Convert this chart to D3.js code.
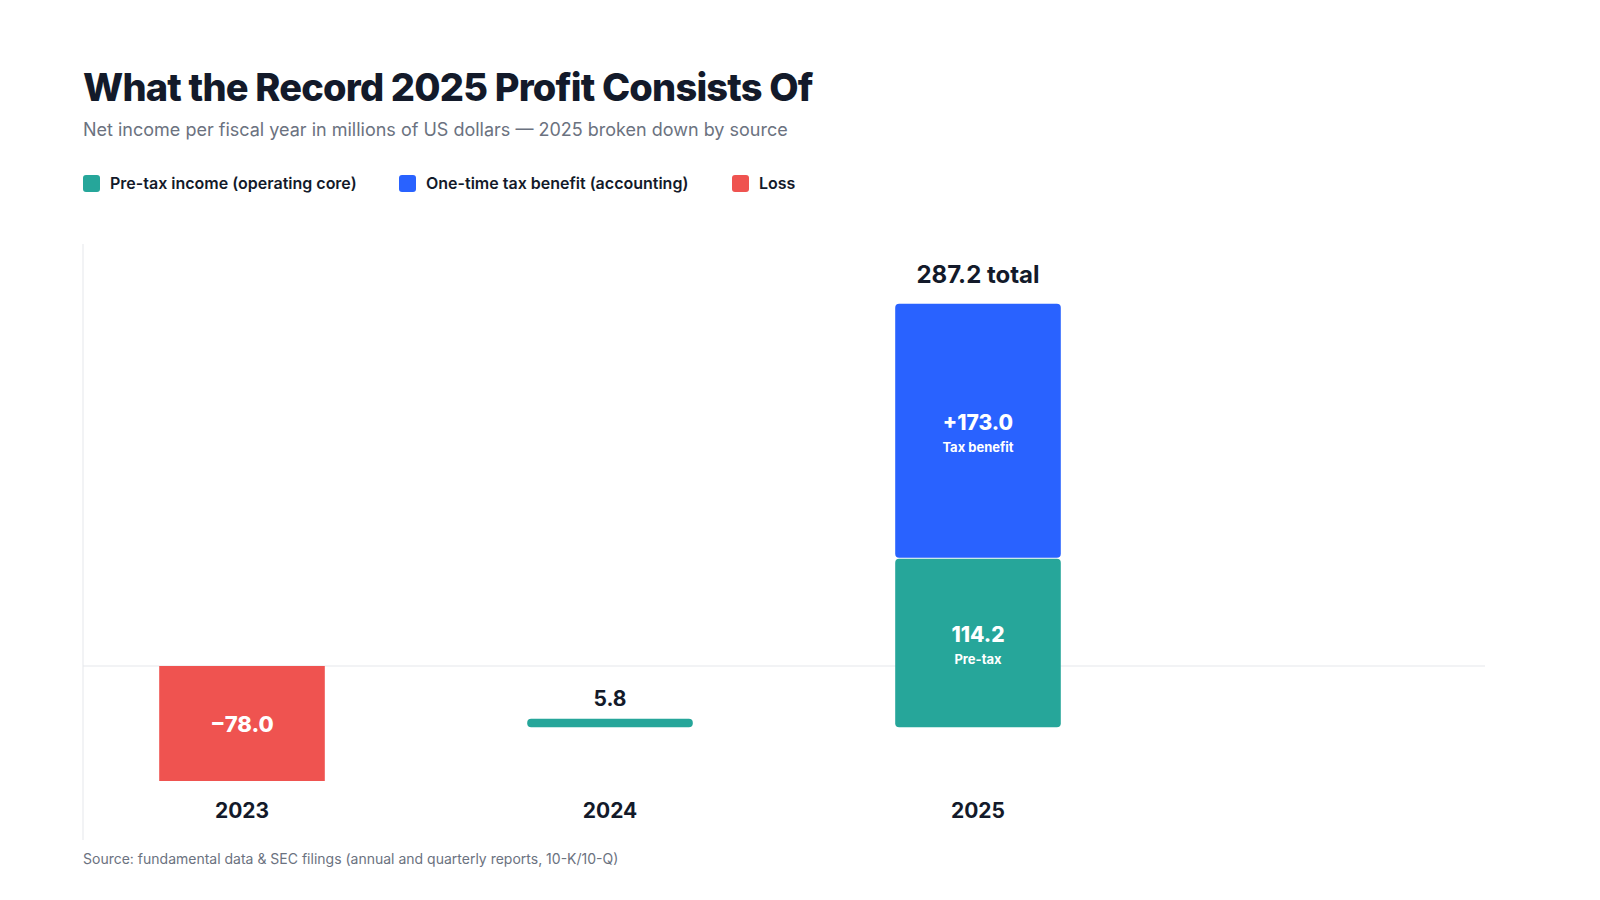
<!DOCTYPE html>
<html><head><meta charset="utf-8">
<script src="https://cdn.jsdelivr.net/npm/d3@7"></script>
<style>body{margin:0;background:#fff;font-family:Inter,"Noto Sans",sans-serif}</style>
</head><body>
<script>
// data
var years = ["2023", "2024", "2025"]
var pretax = [0, 5.8, 114.2]
var taxBenefit = [0, 0, 173.0]
var loss = [-78.0, 0, 0]
var totals = [-78.0, 5.8, 287.2]
var legendLabels = ["Pre-tax income (operating core)", "One-time tax benefit (accounting)", "Loss"]
var colors = ["#26a69a", "#2962ff", "#ef5350"]

var svg = d3.select("body").append("svg").attr("width", 1600).attr("height", 900)

svg.append("text").attr("x", 83).attr("y", 101).attr("font-size", 38).attr("font-weight", 800)
  .attr("fill", "#131a2a").attr("letter-spacing", -0.8).text("What the Record 2025 Profit Consists Of")
svg.append("text").attr("x", 83).attr("y", 136).attr("font-size", 18).attr("fill", "#6b7280")
  .text("Net income per fiscal year in millions of US dollars — 2025 broken down by source")

// legend
var lx = [83, 399, 732]
legendLabels.forEach(function(l, i) {
  svg.append("rect").attr("x", lx[i]).attr("y", 175).attr("width", 17).attr("height", 17).attr("rx", 3).attr("fill", colors[i])
  svg.append("text").attr("x", lx[i] + 27).attr("y", 189).attr("font-size", 16).attr("font-weight", 600)
    .attr("fill", "#131a2a").text(l)
})

var x = d3.scaleBand().domain(years).range([58, 1162]).paddingInner(0.55).paddingOuter(0.275)
var y = d3.scaleLinear().domain([-78, 0]).range([781, 666])
var posBase = y(-41.5) // positive stacks start here in the original

svg.append("line").attr("x1", 83).attr("x2", 83).attr("y1", 244).attr("y2", 840).attr("stroke", "#e5e7eb")
svg.append("line").attr("x1", 83).attr("x2", 1485).attr("y1", y(0)).attr("y2", y(0)).attr("stroke", "#e5e7eb")

function hpx(v) { return y(0) - y(v) }

years.forEach(function(yr, i) {
  var bx = x(yr), bw = x.bandwidth(), cx = bx + bw / 2
  if (loss[i] < 0) {
    svg.append("rect").attr("x", bx).attr("y", y(0)).attr("width", bw).attr("height", y(loss[i]) - y(0)).attr("fill", colors[2])
    svg.append("text").attr("x", cx).attr("y", (y(0) + y(loss[i])) / 2 + 8).attr("text-anchor", "middle")
      .attr("font-size", 22).attr("font-weight", 800).attr("fill", "#fff").text("\u2212" + Math.abs(loss[i]).toFixed(1))
  }
  if (pretax[i] > 0) {
    var h1 = hpx(pretax[i])
    svg.append("rect").attr("x", bx).attr("y", posBase - h1).attr("width", bw).attr("height", h1).attr("rx", 4).attr("fill", colors[0])
    if (taxBenefit[i] > 0) {
      var h2 = hpx(taxBenefit[i])
      svg.append("rect").attr("x", bx).attr("y", posBase - h1 - h2).attr("width", bw).attr("height", h2 - 1).attr("rx", 4).attr("fill", colors[1])
      var m2 = posBase - h1 - h2 / 2, m1 = posBase - h1 / 2
      svg.append("text").attr("x", cx).attr("y", m2 - 1).attr("text-anchor", "middle").attr("font-size", 21).attr("font-weight", 800).attr("fill", "#fff").text("+" + taxBenefit[i].toFixed(1))
      svg.append("text").attr("x", cx).attr("y", m2 + 21).attr("text-anchor", "middle").attr("font-size", 13).attr("font-weight", 700).attr("fill", "#fff").text("Tax benefit")
      svg.append("text").attr("x", cx).attr("y", m1 - 1).attr("text-anchor", "middle").attr("font-size", 21).attr("font-weight", 800).attr("fill", "#fff").text(pretax[i].toFixed(1))
      svg.append("text").attr("x", cx).attr("y", m1 + 21).attr("text-anchor", "middle").attr("font-size", 13).attr("font-weight", 700).attr("fill", "#fff").text("Pre-tax")
      svg.append("text").attr("x", cx).attr("y", posBase - h1 - h2 - 21).attr("text-anchor", "middle").attr("font-size", 24).attr("font-weight", 700).attr("fill", "#131a2a").text(totals[i].toFixed(1) + " total")
    } else {
      svg.append("text").attr("x", cx).attr("y", posBase - h1 - 13).attr("text-anchor", "middle").attr("font-size", 21).attr("font-weight", 700).attr("fill", "#131a2a").text(totals[i].toFixed(1))
    }
  }
  svg.append("text").attr("x", cx).attr("y", 818).attr("text-anchor", "middle").attr("font-size", 21).attr("font-weight", 700).attr("fill", "#131a2a").text(yr)
})

svg.append("text").attr("x", 83).attr("y", 864).attr("font-size", 14).attr("fill", "#6b7280")
  .text("Source: fundamental data & SEC filings (annual and quarterly reports, 10-K/10-Q)")
</script>
</body></html>
